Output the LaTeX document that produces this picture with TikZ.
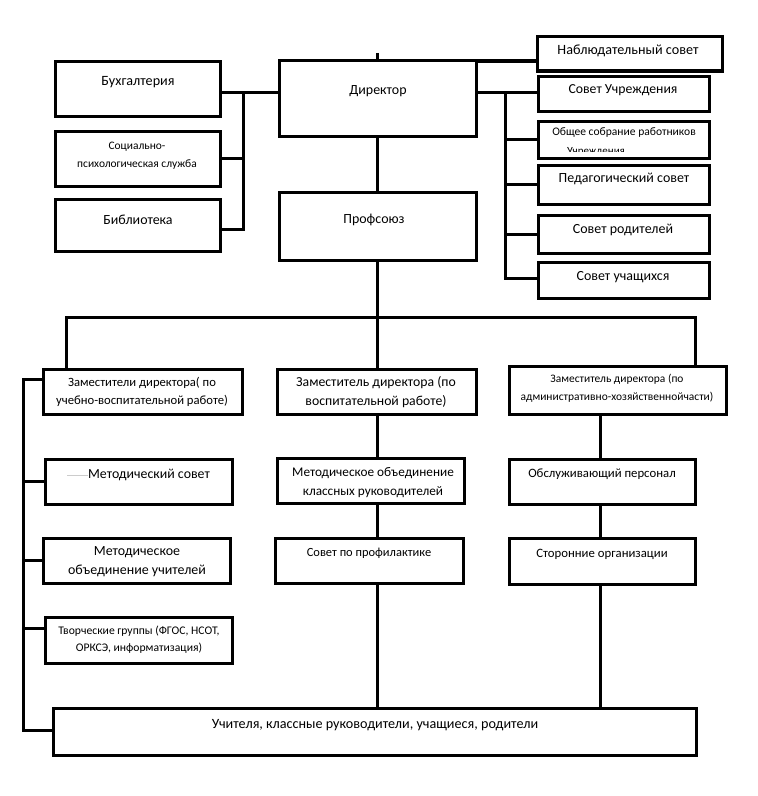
\documentclass[tikz,border=0pt]{standalone}
\usepackage{fontspec}
\setmainfont{Carlito}
\usetikzlibrary{backgrounds}
\tikzset{
  box/.style={draw=black, line width=3bp, fill=white, inner sep=0pt, outer sep=0pt},
  conn/.style={draw=black, line width=3bp},
  fs/.style={font=\fontsize{#1}{#1}\selectfont, inner sep=0pt, align=center}
}
\newcommand{\bx}[5]{\node[box, minimum width={(#4-#2)*1bp}, minimum height={(#5-#3)*1bp}] (#1) at ({(#2+#4)/2},{(#3+#5)/2}) {};}
\begin{document}
\begin{tikzpicture}[x=1bp, y=-1bp]
\useasboundingbox (0,0) rectangle (758,796);
% boxes
\bx{buh}{55}{62}{220}{116}
\bx{soc}{55}{131}{220}{186}
\bx{bib}{55}{199}{220}{251}
\bx{dir}{279}{61}{476}{136}
\bx{prof}{279}{192}{476}{260}
\bx{nab}{537}{37}{722}{71}
\bx{su}{538}{76}{709}{111}
\bx{os}{538}{121}{709}{158}
\bx{ped}{538}{165}{709}{204}
\bx{rod}{538}{215}{709}{253}
\bx{uch}{538}{262}{709}{298}
\bx{zam1}{43}{369}{242}{414}
\bx{zam2}{277}{369}{476}{414}
\bx{zam3}{509}{366}{726}{414}
\bx{ms}{45}{459}{232}{504}
\bx{mou}{43}{538}{230}{583}
\bx{tg}{45}{617}{232}{663}
\bx{mokr}{277}{458}{464}{503}
\bx{spp}{275}{538}{463}{583}
\bx{obp}{509}{459}{695}{504}
\bx{sto}{509}{538}{695}{584}
\bx{bot}{53}{708}{696}{755}
% coordinates
\coordinate (lbtop) at (243,92);
\coordinate (lbbot) at (243,229);
\coordinate (rbtop) at (505,92);
\coordinate (rbbot) at (505,278);
\coordinate (tick) at (377,53);
\coordinate (nabl) at (453,61);
\coordinate (mbl) at (66,317);
\coordinate (mbm) at (377,317);
\coordinate (mbr) at (695,317);
\coordinate (lvt) at (23,379);
\coordinate (lvb) at (23,730);
\coordinate (tgc) at (23,628);
\coordinate (midc) at (377,414);
\coordinate (rc) at (600,414);
\begin{pgfonlayer}{background}
\draw[conn] (buh.east|-lbtop) -- (dir.west|-lbtop);
\draw[conn] (lbtop) -- (lbbot) -- (bib.east|-lbbot);
\draw[conn] (soc.east) -- (soc.east-|lbtop);
\draw[conn] (dir.east|-rbtop) -- (su.west|-rbtop);
\draw[conn] (rbtop) -- (rbbot) -- (uch.west|-rbbot);
\draw[conn] (rbtop|-os.west) -- (os.west);
\draw[conn] (rbtop|-ped.west) -- (ped.west);
\draw[conn] (rbtop|-rod.west) -- (rod.west);
\draw[conn] (tick) -- (tick|-dir.north);
\draw[draw=black, line width=4bp] (nabl) -- (nab.west|-nabl);
\draw[conn] (dir.south-|mbm) -- (mbm);
\draw[conn] (zam1.north-|mbl) -- (mbl) -- (mbr) -- (zam3.north-|mbr);
\draw[conn] (mbm) -- (zam2.north-|mbm);
\draw[conn] (zam1.west|-lvt) -- (lvt) -- (lvb) -- (bot.west|-lvb);
\draw[conn] (lvt|-ms.west) -- (ms.west);
\draw[conn] (lvt|-mou.west) -- (mou.west);
\draw[conn] (tgc) -- (tg.west|-tgc);
\draw[conn] (midc) -- (midc|-bot.north);
\draw[conn] (rc) -- (rc|-bot.north);
\end{pgfonlayer}
% texts
\node[fs=14.2] (tbuh) at (138,82) {Бухгалтерия};
\node[fs=11.5] (tsoc) at (137,155.5) {Социально-\\[7bp]психологическая служба};
\node[fs=14] (tbib) at (138,220) {Библиотека};
\node[fs=14] (tdir) at (378,91) {Директор};
\node[fs=14] (tprof) at (374,220) {Профсоюз};
\node[fs=14.2] (tnab) at (628,51) {Наблюдательный совет};
\node[fs=13.8] (tsu) at (623,90) {Совет Учреждения};
\node[fs=11.6] (tos) at (624,133) {Общее собрание работников};
\begin{scope}
\clip (540,121) rectangle (707,151.5);
\node[fs=11, anchor=base] (tos2) at (596,154) {Учреждения};
\end{scope}
\node[fs=14] (tped) at (624,179) {Педагогический совет};
\node[fs=14] (trod) at (623,230) {Совет родителей};
\node[fs=14] (tuch) at (623,277) {Совет учащихся};
\node[fs=12.7] (tz1) at (142,392) {Заместители директора( по\\[6bp]учебно-воспитательной работе)};
\node[fs=13.8] (tz2) at (376,392) {Заместитель директора (по\\[5bp]воспитательной работе)};
\node[fs=11.5] (tz3) at (617,388) {Заместитель директора (по\\[7bp]административно-хозяйственнойчасти)};
\draw[draw=black!20, line width=0.8bp] (67,475) -- (88,475);
\node[fs=13.9] (tms) at (149,475) {Методический совет};
\node[fs=14] (tmou) at (137,561.5) {Методическое\\[5bp]объединение учителей};
\node[fs=11.7] (ttg) at (139,640) {Творческие группы (ФГОС, НСОТ,\\[5bp]ОРКСЭ, информатизация)};
\node[fs=13.3] (tmokr) at (373,482.5) {Методическое объединение\\[5bp]классных руководителей};
\node[fs=12.5] (tspp) at (369,553) {Совет по профилактике};
\node[fs=12.8] (tobp) at (602,474) {Обслуживающий персонал};
\node[fs=12.8] (tsto) at (602,554) {Сторонние организации};
\node[fs=14.2] (tbot) at (375,725) {Учителя, классные руководители, учащиеся, родители};
\end{tikzpicture}
\end{document}
